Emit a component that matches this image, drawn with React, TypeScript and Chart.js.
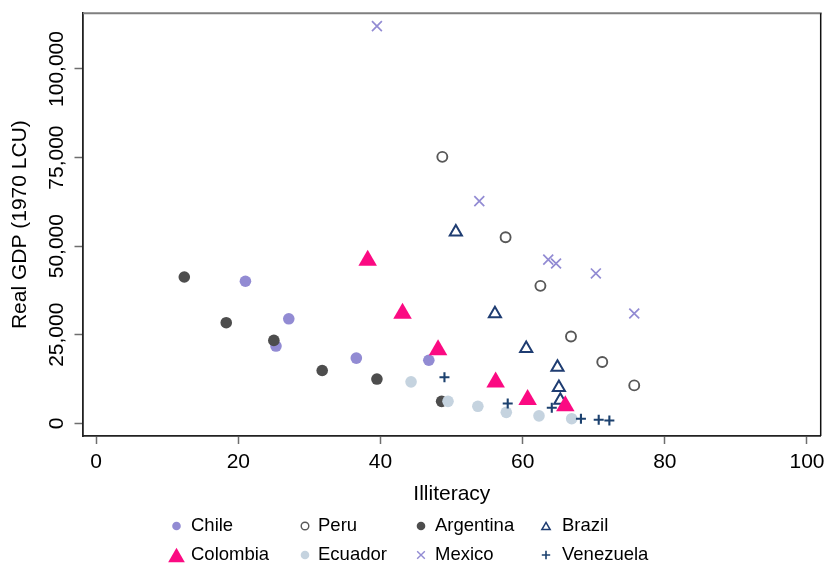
import React, { useEffect, useRef } from "react";
import { Chart, registerables } from "chart.js";

Chart.register(...registerables);

const FONT = "'Liberation Sans', Arial, Helvetica, sans-serif";

// ---- data (legend order) ----
const countries = ["Chile", "Peru", "Argentina", "Brazil", "Colombia", "Ecuador", "Mexico", "Venezuela"];

const chileX = [21.0, 27.1, 25.3, 36.6, 46.8];
const chileY = [40100, 29500, 21800, 18400, 17800];
const peruX = [48.7, 57.6, 62.5, 66.8, 71.2, 75.7];
const peruY = [75200, 52500, 38800, 24500, 17300, 10700];
const argentinaX = [12.4, 18.3, 25.0, 31.8, 39.5, 48.6];
const argentinaY = [41300, 28400, 23400, 14900, 12500, 6200];
const brazilX = [50.6, 56.1, 60.5, 64.9, 65.1, 65.3];
const brazilY = [54000, 30900, 21100, 15800, 10100, 6500];
const colombiaX = [38.2, 43.1, 48.1, 56.2, 60.7, 66.0];
const colombiaY = [46000, 31000, 20700, 11600, 6700, 4900];
const ecuadorX = [44.3, 49.5, 53.7, 57.7, 62.3, 66.9];
const ecuadorY = [11700, 6200, 4800, 3100, 2100, 1300];
const mexicoX = [39.5, 53.9, 63.6, 64.7, 70.3, 75.7];
const mexicoY = [112100, 62700, 46200, 45100, 42300, 31000];
const venezuelaX = [49.0, 57.9, 64.1, 68.2, 70.7, 72.2];
const venezuelaY = [13000, 5600, 4400, 1300, 1000, 800];

const xTicks = [0, 20, 40, 60, 80, 100];
const yTicks = [0, 25000, 50000, 75000, 100000];

const xLabel = "Illiteracy";
const yLabel = "Real GDP (1970 LCU)";

const seriesX = [chileX, peruX, argentinaX, brazilX, colombiaX, ecuadorX, mexicoX, venezuelaX];
const seriesY = [chileY, peruY, argentinaY, brazilY, colombiaY, ecuadorY, mexicoY, venezuelaY];

// ---- styles ----
const LAV = "#928bd3";
const NAVY = "#1c416f";
type Sty = { shape: string; fill: string; stroke: string; r: number; bw: number; lr: number; lbw: number };
const styles: Sty[] = [
  { shape: "circle", fill: LAV, stroke: LAV, r: 5.8, bw: 0, lr: 4.3, lbw: 0 },
  { shape: "circle", fill: "transparent", stroke: "#585858", r: 5.0, bw: 1.9, lr: 3.8, lbw: 1.4 },
  { shape: "circle", fill: "#4d4d4d", stroke: "#4d4d4d", r: 5.8, bw: 0, lr: 4.3, lbw: 0 },
  { shape: "triangle", fill: "transparent", stroke: "#1f3d72", r: 7, bw: 2, lr: 4.8, lbw: 1.5 },
  { shape: "triangle", fill: "#fb0a82", stroke: "#fb0a82", r: 10.7, bw: 0, lr: 9.6, lbw: 0 },
  { shape: "circle", fill: "#c5d3df", stroke: "#c5d3df", r: 5.8, bw: 0, lr: 4.3, lbw: 0 },
  { shape: "crossRot", fill: LAV, stroke: LAV, r: 7, bw: 1.7, lr: 5.4, lbw: 1.4 },
  { shape: "cross", fill: NAVY, stroke: NAVY, r: 5, bw: 2.1, lr: 4.2, lbw: 1.6 },
];

function drawMarker(ctx: CanvasRenderingContext2D, s: Sty, x: number, y: number, r: number, bw: number) {
  ctx.save();
  ctx.beginPath();
  if (s.shape === "circle") {
    ctx.arc(x, y, r, 0, Math.PI * 2);
  } else if (s.shape === "triangle") {
    ctx.moveTo(x, y - r);
    ctx.lineTo(x + r * Math.sin(Math.PI / 3), y + r * 0.5);
    ctx.lineTo(x - r * Math.sin(Math.PI / 3), y + r * 0.5);
    ctx.closePath();
  } else if (s.shape === "crossRot") {
    const d = r * Math.SQRT1_2;
    ctx.moveTo(x - d, y - d); ctx.lineTo(x + d, y + d);
    ctx.moveTo(x - d, y + d); ctx.lineTo(x + d, y - d);
  } else if (s.shape === "cross") {
    ctx.moveTo(x - r, y); ctx.lineTo(x + r, y);
    ctx.moveTo(x, y - r); ctx.lineTo(x, y + r);
  }
  if (s.fill !== "transparent" && (s.shape === "circle" || s.shape === "triangle")) {
    ctx.fillStyle = s.fill;
    ctx.fill();
  }
  if (bw > 0) {
    ctx.strokeStyle = s.stroke;
    ctx.lineWidth = bw;
    ctx.stroke();
  }
  ctx.restore();
}

const fmt = (v: number) => v.toLocaleString("en-US");

const decorPlugin = {
  id: "decor",
  afterDraw(chart: any) {
    const { ctx, chartArea: a, scales } = chart;
    ctx.save();
    // top and right frame
    ctx.strokeStyle = "#7f7f7f";
    ctx.lineWidth = 2;
    ctx.beginPath();
    ctx.moveTo(a.left, a.top);
    ctx.lineTo(a.right + 1, a.top);
    ctx.stroke();
    ctx.strokeStyle = "#111111";
    ctx.lineWidth = 1.5;
    ctx.beginPath();
    ctx.moveTo(a.right, a.top);
    ctx.lineTo(a.right, a.bottom);
    ctx.stroke();

    // rotated y tick labels
    const ys = scales.y;
    ctx.font = `21px ${FONT}`;
    ctx.fillStyle = "#000";
    ctx.textAlign = "center";
    ctx.textBaseline = "middle";
    ys.ticks.forEach((t: any) => {
      const py = ys.getPixelForValue(t.value);
      ctx.save();
      ctx.translate(a.left - 25.5, py);
      ctx.rotate(-Math.PI / 2);
      ctx.fillText(fmt(t.value), 0, 0);
      ctx.restore();
    });

    // legend grid (2 rows x 4 cols)
    const markerX = [176.5, 305, 421, 546];
    const textX = [191, 318, 435, 562];
    const rowY = [a.bottom + 90, a.bottom + 119];
    ctx.font = `18.5px ${FONT}`;
    ctx.textAlign = "left";
    countries.forEach((name, i) => {
      const col = i % 4;
      const row = Math.floor(i / 4);
      const s = styles[i];
      drawMarker(ctx, s, markerX[col], rowY[row] + (s.shape === "triangle" ? s.lr * 0.25 : 0), s.lr, s.lbw);
      ctx.fillStyle = "#000";
      ctx.fillText(name, textX[col], rowY[row]);
    });
    ctx.restore();
  },
};

export default function App() {
  const ref = useRef<HTMLCanvasElement>(null);
  useEffect(() => {
    if (!ref.current) return;
    const datasets = countries.map((name, i) => {
      const s = styles[i];
      return {
        label: name,
        data: seriesX[i].map((x, j) => ({ x, y: seriesY[i][j] })),
        pointStyle: s.shape,
        pointRadius: s.r,
        pointBackgroundColor: s.fill,
        pointBorderColor: s.stroke,
        pointBorderWidth: s.bw,
        showLine: false,
        order: -i,
      };
    });
    const chart = new Chart(ref.current, {
      type: "scatter",
      data: { datasets },
      options: {
        animation: false,
        responsive: false,
        events: [],
        layout: { autoPadding: false, padding: { left: 0, right: 6.3, top: 13.3, bottom: 50 } },
        plugins: { legend: { display: false }, tooltip: { enabled: false } },
        scales: {
          x: {
            type: "linear",
            min: -1.85,
            max: 101.93,
            afterFit: (s: any) => { s.height = 80; s.paddingLeft = 0; s.paddingRight = 0; },
            afterBuildTicks: (s: any) => { s.ticks = xTicks.map((v) => ({ value: v })); },
            ticks: {
              includeBounds: false,
              padding: 0,
              color: "#000",
              font: { family: FONT, size: 21, lineHeight: 1.69 },
              callback: (v: any) => String(v),
              maxRotation: 0,
            },
            grid: {
              drawOnChartArea: false,
              drawTicks: true,
              tickLength: 8,
              tickColor: "#6e6e6e",
              tickWidth: 1.5,
            },
            border: { display: true, color: "#222", width: 1.8 },
            title: {
              display: true,
              text: xLabel,
              color: "#000",
              font: { family: FONT, size: 21 },
              padding: { top: 0, bottom: 9.4 },
            },
          },
          y: {
            type: "linear",
            min: -3580,
            max: 115720,
            afterFit: (s: any) => { s.width = 83; s.paddingTop = 0; s.paddingBottom = 0; },
            afterBuildTicks: (s: any) => { s.ticks = yTicks.map((v) => ({ value: v })); },
            ticks: { display: false },
            grid: {
              drawOnChartArea: false,
              drawTicks: true,
              tickLength: 8.5,
              tickColor: "#6e6e6e",
              tickWidth: 1.5,
            },
            border: { display: true, color: "#222", width: 1.8 },
            title: {
              display: true,
              text: yLabel,
              color: "#000",
              font: { family: FONT, size: 21 },
              padding: { top: 8, bottom: 0 },
            },
          },
        },
      } as any,
      plugins: [decorPlugin],
    });
    return () => chart.destroy();
  }, []);
  return (
    <div style={{ position: "fixed", left: 0, top: 0, width: 827, height: 566, background: "#fff" }}>
      <canvas ref={ref} width={827} height={566} style={{ display: "block" }} />
    </div>
  );
}
